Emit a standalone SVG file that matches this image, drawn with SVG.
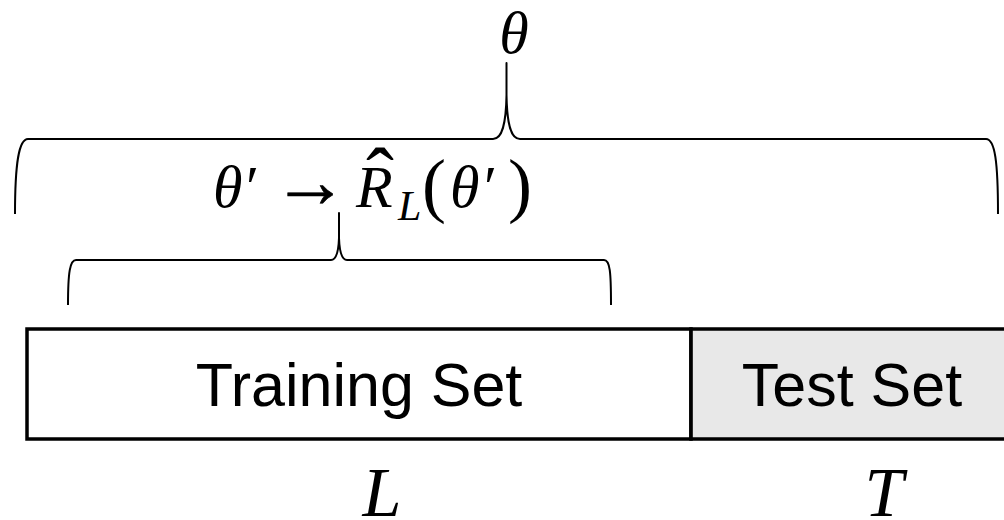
<svg xmlns="http://www.w3.org/2000/svg" width="1004" height="520" viewBox="0 0 1004 520">
<style>
.brace{fill:none;stroke:#000;stroke-width:2;stroke-linejoin:round}
.lbl{font-family:"Liberation Sans",Arial,sans-serif;font-size:61px;fill:#000}
.m{font-family:"Liberation Serif","Times New Roman",serif;fill:#000}
.i{font-style:italic}
</style>
<rect width="1004" height="520" fill="#fff"/>
<g id="training-set">
<rect x="27" y="329" width="664" height="110" fill="#fff" stroke="#000" stroke-width="3.5"/>
<text class="lbl" x="359" y="406" text-anchor="middle">Training Set</text>
</g>
<g id="test-set">
<rect x="691" y="329" width="320" height="110" fill="#e8e8e8" stroke="#000" stroke-width="3.5"/>
<line x1="691" y1="329" x2="691" y2="439" stroke="#000" stroke-width="2.5"/>
<text class="lbl" x="852" y="406" text-anchor="middle">Test Set</text>
</g>
<g id="connectors">
<path class="brace" d="M15,214 C15,162 19,139 28,139 L493,139 C502,139 506,125 506.5,95 L506.5,63 L506.5,95 C507,125 511,139 520,139 L986,139 C995,139 998,162 998,214"/>
<path class="brace" d="M68,305 C68,272 70,260 76,260 L331,260 C336,260 338.5,252 339,238 L339,213 L339,238 C339.5,252 342,260 347,260 L604,260 C610,260 611,272 611,305"/>
</g>
<g id="label-theta">
<text class="m i" x="514" y="53" font-size="60" text-anchor="middle">θ</text>
</g>
<g id="label-risk">
<text class="m" y="207" font-size="60"><tspan class="i" x="213">θ</tspan><tspan x="246">′</tspan></text>
<text class="m" x="272" y="207" font-size="76" stroke="#000" stroke-width="0.6">→</text>
<text class="m i" x="356" y="207" font-size="60">R</text>
<text class="m" x="380" y="206" font-size="84" text-anchor="middle">ˆ</text>
<text class="m i" x="398" y="220" font-size="42">L</text>
<text class="m" y="209" font-size="72"><tspan x="422">(</tspan><tspan x="508">)</tspan></text>
<text class="m" y="207" font-size="60"><tspan class="i" x="450">θ</tspan><tspan x="484">′</tspan></text>
</g>
<g id="label-L">
<text class="m i" x="382" y="516" font-size="70" text-anchor="middle">L</text>
</g>
<g id="label-T">
<text class="m i" x="884" y="516" font-size="70" text-anchor="middle">T</text>
</g>
</svg>
